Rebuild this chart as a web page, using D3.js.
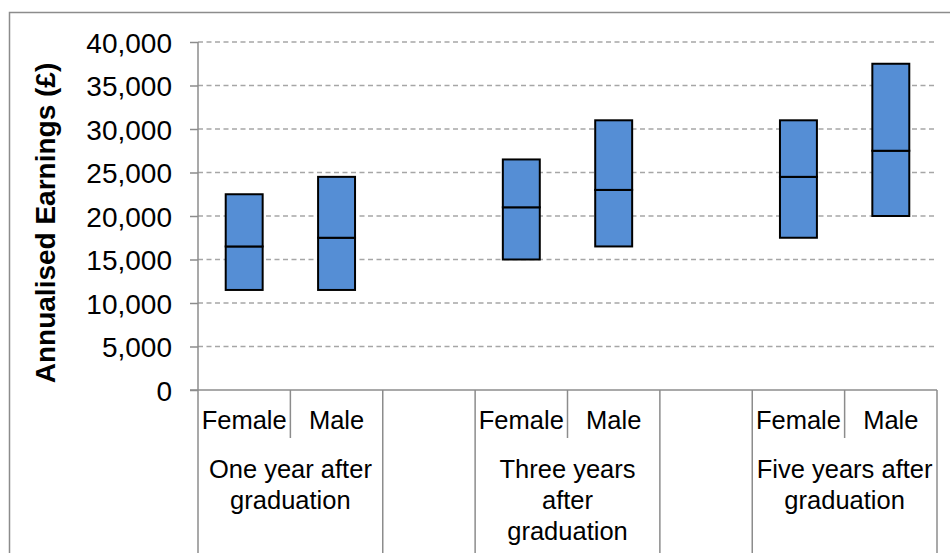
<!DOCTYPE html>
<html>
<head>
<meta charset="utf-8">
<script src="https://cdn.jsdelivr.net/npm/d3@7"></script>
<style>
  html, body { margin: 0; padding: 0; background: #fff; }
  svg { display: block; font-family: "Liberation Sans", Arial, sans-serif; }
</style>
</head>
<body>
<svg id="chart" width="950" height="553"></svg>
<script>
// ---- Data ----
const categories = ["Female", "Male", "", "Female", "Male", "", "Female", "Male"];
const groupLabels = [
  ["One year after", "graduation"],
  [],
  ["Three years", "after", "graduation"],
  [],
  ["Five years after", "graduation"]
];
const groupSpans = [2, 1, 2, 1, 2];
const lowerQuartile = [11500, 11500, null, 15000, 16500, null, 17500, 20000];
const median        = [16500, 17500, null, 21000, 23000, null, 24500, 27500];
const upperQuartile = [22500, 24500, null, 26500, 31000, null, 31000, 37500];
const yTicks = [0, 5000, 10000, 15000, 20000, 25000, 30000, 35000, 40000];

(function () {
// ---- Layout ----
const svg = d3.select("#chart");
const plotLeft = 198, plotRight = 937, plotTop = 42, plotBottom = 390;
const axisColor = "#8c8c8c";

// outer border
svg.append("rect")
  .attr("x", 9.5).attr("y", 12.5)
  .attr("width", 960).attr("height", 580)
  .attr("fill", "none").attr("stroke", axisColor).attr("stroke-width", 1.5);

const x = d3.scaleBand().domain(d3.range(categories.length)).range([plotLeft, plotRight]).padding(0);
const y = d3.scaleLinear().domain([0, 40000]).range([plotBottom, plotTop]);

// gridlines
svg.append("g").selectAll("line")
  .data(yTicks.filter(d => d > 0))
  .join("line")
  .attr("x1", plotLeft).attr("x2", plotRight)
  .attr("y1", d => y(d)).attr("y2", d => y(d))
  .attr("stroke", "#a6a6a6").attr("stroke-width", 1.3)
  .attr("stroke-dasharray", "5,3.5");

// y axis
const yAxis = svg.append("g")
  .attr("transform", `translate(${plotLeft},0)`)
  .call(d3.axisLeft(y).tickValues(yTicks).tickSize(8).tickSizeOuter(0).tickPadding(18)
    .tickFormat(d => d === 0 ? "0" : d3.format(",")(d)));
yAxis.select(".domain").remove();
yAxis.selectAll(".tick line").attr("stroke", axisColor).attr("stroke-width", 1.5);
yAxis.selectAll(".tick text")
  .attr("font-size", 28).attr("fill", "#000")
  .attr("font-family", "Liberation Sans, Arial, sans-serif")
  .attr("dy", "0.36em");
// y axis line (continues down through category area)
svg.append("line")
  .attr("x1", plotLeft).attr("x2", plotLeft).attr("y1", plotTop).attr("y2", 553)
  .attr("stroke", axisColor).attr("stroke-width", 1.5);

// x axis line
svg.append("line")
  .attr("x1", plotLeft - 8).attr("x2", plotRight).attr("y1", plotBottom).attr("y2", plotBottom)
  .attr("stroke", axisColor).attr("stroke-width", 1.5);

// category separators
const groupBounds = [];
let acc = 0;
groupSpans.forEach(s => { groupBounds.push([acc, acc + s]); acc += s; });
const fullIdx = new Set(groupBounds.map(g => g[1]));
const boundaries = d3.range(1, categories.length + 1);
const bx = i => i < categories.length ? x(i) : x(i - 1) + x.bandwidth();
svg.append("g").selectAll("line")
  .data(boundaries)
  .join("line")
  .attr("x1", bx).attr("x2", bx)
  .attr("y1", plotBottom)
  .attr("y2", i => fullIdx.has(i) ? 553 : 438)
  .attr("stroke", axisColor).attr("stroke-width", 1.5);

// category labels
svg.append("g").selectAll("text")
  .data(categories)
  .join("text")
  .attr("x", (d, i) => x(i) + x.bandwidth() / 2)
  .attr("y", 429)
  .attr("text-anchor", "middle")
  .attr("font-size", 25.5)
  .attr("fill", "#000")
  .text(d => d);

// group labels
groupBounds.forEach((g, gi) => {
  const cx = (x(g[0]) + x(g[1] - 1) + x.bandwidth()) / 2;
  const t = svg.append("text")
    .attr("text-anchor", "middle")
    .attr("font-size", 25.5)
    .attr("fill", "#000");
  groupLabels[gi].forEach((line, li) => {
    t.append("tspan").attr("x", cx).attr("y", 478 + li * 31).text(line);
  });
});

// boxes
const bw = x.bandwidth() * 0.4;
const boxData = categories.map((c, i) => ({ i, q1: lowerQuartile[i], med: median[i], q3: upperQuartile[i] }))
  .filter(d => d.q1 != null);
const boxes = svg.append("g").selectAll("g").data(boxData).join("g");
boxes.append("rect")
  .attr("x", d => x(d.i) + (x.bandwidth() - bw) / 2)
  .attr("width", bw)
  .attr("y", d => y(d.med))
  .attr("height", d => y(d.q1) - y(d.med))
  .attr("fill", "#558ed5").attr("stroke", "#000").attr("stroke-width", 2);
boxes.append("rect")
  .attr("x", d => x(d.i) + (x.bandwidth() - bw) / 2)
  .attr("width", bw)
  .attr("y", d => y(d.q3))
  .attr("height", d => y(d.med) - y(d.q3))
  .attr("fill", "#558ed5").attr("stroke", "#000").attr("stroke-width", 2);

// y axis title
svg.append("text")
  .attr("transform", `translate(55,${(plotTop + plotBottom) / 2 + 7}) rotate(-90)`)
  .attr("text-anchor", "middle")
  .attr("font-size", 28)
  .attr("font-weight", "bold")
  .attr("fill", "#000")
  .text("Annualised Earnings (£)");
})();
</script>
</body>
</html>
